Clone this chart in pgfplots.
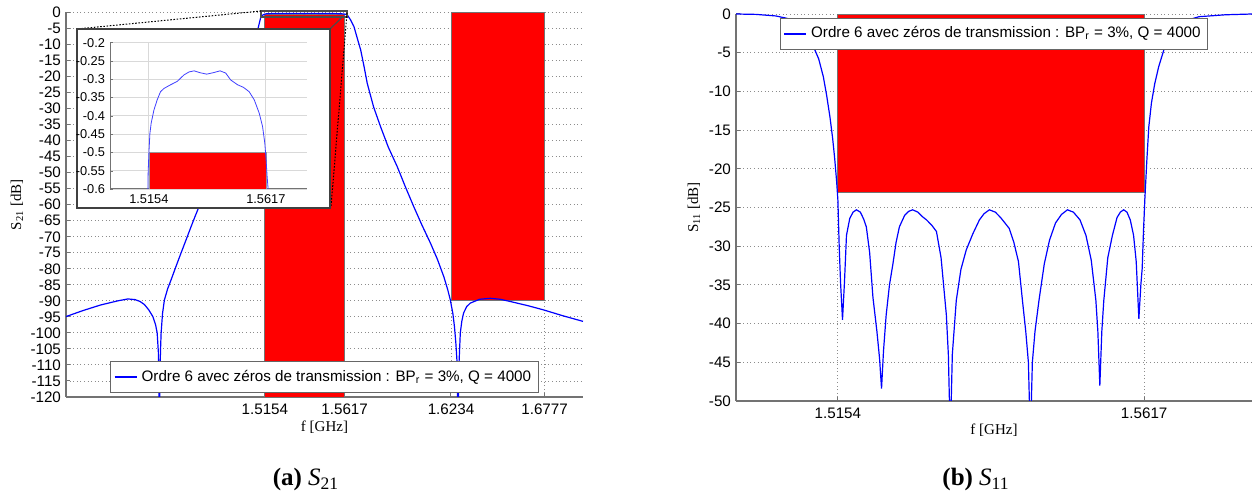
\documentclass[border=0pt]{standalone}
\usepackage{fontspec}
\setmainfont{Liberation Serif}
\newfontfamily\arial{Liberation Sans}
\usepackage{pgfplots}
\usepackage{pgfplotstable}
\pgfplotsset{compat=1.18}

\pgfplotstableread{
x y
1.4000 -94.9
1.4100 -93.0
1.4200 -91.3
1.4300 -90.0
1.4359 -89.4
1.4400 -89.6
1.4430 -90.2
1.4456 -91.2
1.4480 -92.8
1.4504 -94.9
1.4520 -97.5
1.4529 -100
1.4536 -106
1.4542 -130
1.4548 -106
1.4552 -100
1.4560 -94
1.4571 -89.7
1.4590 -86.2
1.4610 -83.4
1.4640 -79
1.4668 -75
1.4700 -70.5
1.4726 -66.8
1.4750 -63.5
1.4772 -60.6
1.4850 -50
1.4950 -36
1.5030 -22
1.5080 -12
1.5112 -5.5
1.5131 -1.3
1.5140 -0.85
1.5146 -0.70
1.5150 -0.600
1.5151 -0.556
1.5154 -0.502
1.5158 -0.448
1.5163 -0.420
1.5174 -0.384
1.5187 -0.356
1.5200 -0.334
1.5214 -0.325
1.5240 -0.315
1.5266 -0.306
1.5293 -0.288
1.5313 -0.280
1.5333 -0.277
1.5356 -0.282
1.5383 -0.286
1.5409 -0.282
1.5436 -0.277
1.5458 -0.283
1.5478 -0.302
1.5505 -0.315
1.5528 -0.322
1.5551 -0.334
1.5571 -0.356
1.5591 -0.393
1.5604 -0.429
1.5613 -0.475
1.5618 -0.520
1.5622 -0.565
1.5626 -0.600
1.5630 -0.75
1.5635 -1.0
1.5650 -2.2
1.5671 -4.4
1.5690 -8
1.5710 -11.7
1.5730 -17
1.5748 -22.1
1.5785 -29.5
1.5825 -35.6
1.5870 -42
1.5922 -48.1
1.5970 -54.5
1.6018 -60.6
1.6065 -66.3
1.6115 -72
1.6155 -77
1.6192 -82.4
1.6215 -86.5
1.6230 -89.7
1.6245 -94
1.6254 -98
1.6262 -103
1.6269 -109
1.6275 -130
1.6281 -109
1.6288 -100
1.6297 -96.3
1.6307 -93.8
1.6325 -91.8
1.6346 -90.7
1.6400 -89.5
1.6462 -89.2
1.6520 -89.5
1.6578 -90.2
1.6680 -91.5
1.6770 -92.8
1.6880 -94.6
1.7000 -96.4
}\SddA

\pgfplotstableread{
x y
1.5000 0
1.5030 -0.05
1.5060 -0.25
1.5077 -0.56
1.5095 -1.3
1.5110 -2.8
1.5117 -4.2
1.5125 -5.8
1.5132 -8.1
1.5137 -10.5
1.5142 -13.3
1.5146 -16
1.5149 -18.5
1.5152 -21.5
1.5154 -24
1.5156 -30
1.5158 -34.6
1.5161 -39.5
1.5164 -34.6
1.5167 -28.6
1.5172 -26.4
1.5177 -25.6
1.5182 -25.3
1.5188 -25.6
1.5193 -26.5
1.5197 -27.5
1.5202 -30.8
1.5207 -36.6
1.5213 -41
1.5217 -44.5
1.5220 -48.4
1.5223 -43.5
1.5227 -38.9
1.5232 -35
1.5237 -32.4
1.5242 -29.5
1.5247 -27.5
1.5255 -26
1.5261 -25.5
1.5267 -25.3
1.5275 -25.6
1.5282 -26.2
1.5288 -26.6
1.5296 -27.3
1.5303 -28.1
1.5310 -31.5
1.5318 -38.9
1.5321 -44
1.5324 -55
1.5327 -44
1.5330 -40.5
1.5333 -37
1.5340 -33
1.5348 -30.5
1.5358 -28.4
1.5368 -26.6
1.5375 -25.8
1.5383 -25.3
1.5392 -25.6
1.5400 -26.3
1.5413 -27.7
1.5420 -29.5
1.5427 -32
1.5433 -37
1.5438 -41
1.5442 -45
1.5445 -55
1.5448 -45
1.5452 -41
1.5458 -37
1.5466 -32.3
1.5474 -29.2
1.5483 -27
1.5492 -25.9
1.5501 -25.3
1.5510 -25.6
1.5520 -26.6
1.5529 -28.6
1.5537 -31.8
1.5544 -37
1.5547 -41
1.5550 -48
1.5553 -41
1.5556 -37
1.5562 -31.5
1.5569 -28.6
1.5576 -26.3
1.5581 -25.6
1.5586 -25.3
1.5591 -25.6
1.5596 -26.6
1.5601 -28.6
1.5605 -32
1.5609 -39.4
1.5612 -35
1.5614 -32.9
1.5616 -28
1.5618 -24
1.5621 -19
1.5624 -14.6
1.5628 -11.5
1.5633 -9
1.5639 -6.8
1.5648 -4.3
1.5659 -2.5
1.5675 -1.2
1.5690 -0.6
1.5700 -0.35
1.5740 -0.1
1.5780 0
}\SunA

\pgfplotsset{
  mainax/.style={
    scale only axis,
    axis lines*=left,
    axis line style={black!55, line width=0.6pt},
    tick style={black!55, line width=0.5pt},
    tick align=inside, major tick length=2.2pt,
    grid=major,
    major grid style={black!45, dash pattern=on 0.5pt off 1.3pt, line width=0.45pt},
    tick label style={font=\arial\fontsize{7.6}{8.6}\selectfont, text=black},
    /pgf/number format/assume math mode=true,
    label style={font=\fontsize{7.5}{9}\selectfont},
    legend style={font=\arial\fontsize{7.6}{9}\selectfont, draw=black!60,
      line width=0.5pt, fill=white, inner xsep=1.5pt, inner ysep=2.2pt},
    legend cell align=left,
    legend image code/.code={\draw[draw=blue, line width=0.9pt] (0pt,0pt) -- (11pt,0pt);},
  },
}

\begin{document}
\begin{tikzpicture}
\useasboundingbox (0,0) rectangle (627pt,248pt);

% ---------- left: S21 ----------
\begin{axis}[mainax,
  at={(33pt,49.5pt)}, anchor=south west,
  width=258.5pt, height=192.25pt,
  xmin=1.4, xmax=1.7, ymin=-120, ymax=0,
  xtick={1.5154,1.5617,1.6234,1.6777},
  xticklabels={1.5154,1.5617,1.6234,1.6777},
  ytick={-120,-115,...,0},
  yticklabel style={xshift=1pt},
  xlabel={f [GHz]}, ylabel={S\textsubscript{21} [dB]},
  xlabel style={at={(axis description cs:0.5,-0.078)}, anchor=center},
  ylabel style={at={(axis description cs:-0.095,0.5)}, anchor=center},
  legend style={at={(0.5,0.01)}, anchor=south},
]
\addplot[fill=red, draw=black!55, line width=0.4pt, forget plot]
  coordinates {(1.5154,-0.5) (1.5617,-0.5) (1.5617,-125) (1.5154,-125)} -- cycle;
\addplot[fill=red, draw=black!55, line width=0.4pt, forget plot]
  coordinates {(1.6234,0) (1.6777,0) (1.6777,-90) (1.6234,-90)} -- cycle;
\addplot[blue, line width=0.6pt] table[x=x,y=y] {\SddA};
\addlegendentry{Ordre 6 avec zéros de transmission : BP\textsubscript{r} = 3\%, Q = 4000}
\end{axis}

% zoom box and connectors
\draw[black!70, line width=0.8pt] (130.5pt,242.5pt) rectangle (173.5pt,239.5pt);
\draw[black, dash pattern=on 0.8pt off 0.8pt, line width=0.5pt] (130.5pt,242.5pt) -- (38.5pt,233.5pt);
\draw[black!70, line width=0.6pt] (165pt,233.5pt) -- (171.5pt,239.8pt);
\draw[black, dash pattern=on 0.8pt off 0.8pt, line width=0.5pt] (173.5pt,241.5pt) -- (165.5pt,144.5pt);

% inset frame
\draw[black!75, line width=0.8pt, fill=white] (38.5pt,144pt) rectangle (165pt,233.5pt);

% ---------- inset ----------
\begin{axis}[
  at={(55pt,153.5pt)}, anchor=south west, scale only axis,
  width=98.5pt, height=73.15pt,
  xmin=1.5, xmax=1.578, ymin=-0.6, ymax=-0.2,
  axis lines*=left,
  axis line style={black!55, line width=0.5pt},
  tick style={black!55}, tick align=inside, major tick length=1.5pt,
  grid=major, major grid style={black!15, line width=0.4pt},
  xtick={1.5154,1.5617}, xticklabels={1.5154,1.5617},
  ytick={-0.6,-0.55,-0.5,-0.45,-0.4,-0.35,-0.3,-0.25,-0.2},
  yticklabels={-0.6,-0.55,-0.5,-0.45,-0.4,-0.35,-0.3,-0.25,-0.2},
  tick label style={font=\arial\fontsize{6.4}{7.4}\selectfont, text=black},
  yticklabel style={xshift=1pt},
  xticklabel style={yshift=0.5pt},
]
\addplot[fill=red, draw=black!40, line width=0.3pt]
  coordinates {(1.5154,-0.5) (1.5617,-0.5) (1.5617,-0.7) (1.5154,-0.7)} -- cycle;
\addplot[blue!75, line width=0.4pt, restrict x to domain=1.5146:1.5630] table[x=x,y=y] {\SddA};
\end{axis}

% ---------- right: S11 ----------
\begin{axis}[mainax,
  at={(368pt,47.5pt)}, anchor=south west,
  width=258pt, height=193.5pt,
  xmin=1.5, xmax=1.578, ymin=-50, ymax=0,
  xtick={1.5154,1.5617}, xticklabels={1.5154,1.5617},
  ytick={-50,-45,...,0},
  yticklabel style={xshift=1pt},
  xlabel={f [GHz]}, ylabel={S\textsubscript{11} [dB]},
  xlabel style={at={(axis description cs:0.5,-0.075)}, anchor=center},
  ylabel style={at={(axis description cs:-0.0815,0.5)}, anchor=center},
  legend style={at={(0.5,0.99)}, anchor=north},
]
\addplot[fill=red, draw=black!55, line width=0.4pt, forget plot]
  coordinates {(1.5154,0) (1.5617,0) (1.5617,-23) (1.5154,-23)} -- cycle;
\addplot[blue, line width=0.6pt] table[x=x,y=y] {\SunA};
\addlegendentry{Ordre 6 avec zéros de transmission : BP\textsubscript{r} = 3\%, Q = 4000}
\end{axis}

% captions
\node[anchor=base, font=\fontsize{12.5}{14}\selectfont] at (153pt,5pt) {\textbf{(a)} \textit{S}\textsubscript{21}};
\node[anchor=base, font=\fontsize{12.5}{14}\selectfont] at (488pt,5pt) {\textbf{(b)} \textit{S}\textsubscript{11}};
\end{tikzpicture}
\end{document}
